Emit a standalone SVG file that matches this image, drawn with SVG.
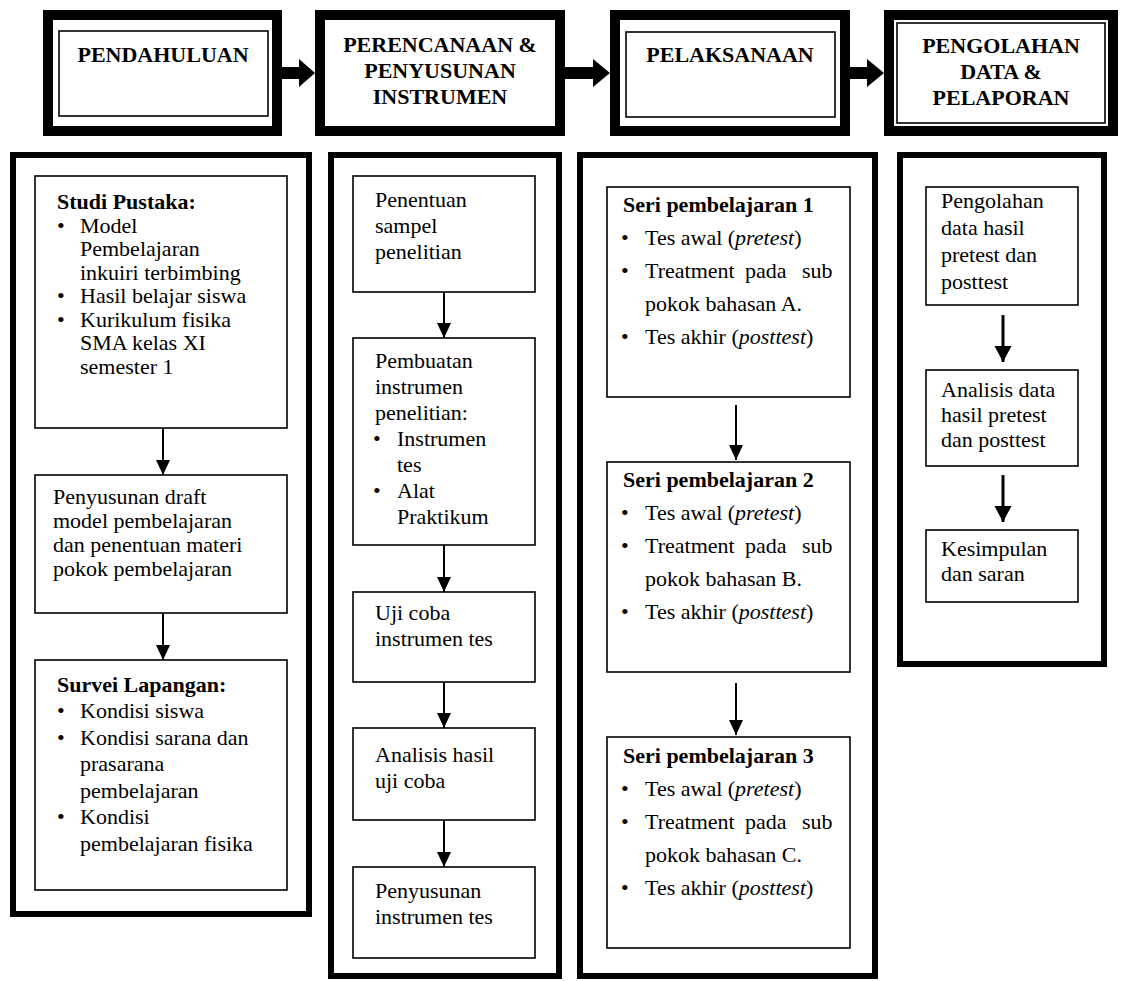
<svg xmlns="http://www.w3.org/2000/svg" width="1128" height="981" viewBox="0 0 1128 981">
<defs>
<style>
.hdr{fill:#fff;stroke:#000;stroke-width:10}
.col{fill:#fff;stroke:#000;stroke-width:6}
.box{fill:#fff;stroke:#000;stroke-width:1.6}
.thin{fill:none;stroke:#000;stroke-width:1.6}
text{font-family:"Liberation Serif","Times New Roman",serif;font-size:22px;fill:#000}
.h{font-weight:bold;text-anchor:middle}
.b{font-weight:bold}
.i{font-style:italic}
.ln{stroke:#000;stroke-width:2;fill:none}
.ln3{stroke:#000;stroke-width:3;fill:none}
</style>
<marker id="ah" markerUnits="userSpaceOnUse" markerWidth="16" markerHeight="16" refX="15" refY="7" orient="auto">
<path d="M0,0 L15,7 L0,14 z" fill="#000"/>
</marker>
<marker id="ah2" markerUnits="userSpaceOnUse" markerWidth="18" markerHeight="18" refX="16" refY="8.5" orient="auto">
<path d="M0,0 L16,8.5 L0,17 z" fill="#000"/>
</marker>
</defs>
<rect width="1128" height="981" fill="#fff"/>

<g id="h1">
<rect class="hdr" x="48" y="15" width="229" height="116"/>
<rect class="thin" x="59" y="31" width="209" height="85"/>
<text class="h" x="163" y="62">PENDAHULUAN</text>
</g>
<g id="h2">
<rect class="hdr" x="320" y="15" width="240" height="116"/>
<text class="h" x="440" y="52">PERENCANAAN &amp;</text>
<text class="h" x="440" y="78">PENYUSUNAN</text>
<text class="h" x="440" y="104">INSTRUMEN</text>
</g>
<g id="h3">
<rect class="hdr" x="615" y="15" width="230" height="116"/>
<rect class="thin" x="626" y="32" width="209" height="85"/>
<text class="h" x="730" y="62">PELAKSANAAN</text>
</g>
<g id="h4">
<rect class="hdr" x="889" y="15" width="224" height="116"/>
<rect class="thin" x="897" y="23" width="208" height="100"/>
<text class="h" x="1001" y="53">PENGOLAHAN</text>
<text class="h" x="1001" y="79">DATA &amp;</text>
<text class="h" x="1001" y="105">PELAPORAN</text>
</g>

<g id="c1">
<rect class="col" x="13" y="155" width="296" height="759"/>
</g>
<g id="c2">
<rect class="col" x="331" y="155" width="228" height="821"/>
</g>
<g id="c3">
<rect class="col" x="580" y="155" width="295" height="821"/>
</g>
<g id="c4">
<rect class="col" x="900" y="155" width="204" height="509"/>
</g>

<g id="studi">
<rect class="box" x="35" y="176" width="252" height="252"/>
<text class="b" x="57" y="209">Studi Pustaka:</text>
<text x="57" y="233">•</text><text x="80" y="233">Model</text>
<text x="80" y="256">Pembelajaran</text>
<text x="80" y="280">inkuiri terbimbing</text>
<text x="57" y="303">•</text><text x="80" y="303">Hasil belajar siswa</text>
<text x="57" y="327">•</text><text x="80" y="327">Kurikulum fisika</text>
<text x="80" y="350">SMA kelas XI</text>
<text x="80" y="374">semester 1</text>
</g>
<g id="draft">
<rect class="box" x="35" y="475" width="252" height="138"/>
<text x="53" y="504">Penyusunan draft</text>
<text x="53" y="528">model pembelajaran</text>
<text x="53" y="552">dan penentuan materi</text>
<text x="53" y="576">pokok pembelajaran</text>
</g>
<g id="survei">
<rect class="box" x="35" y="660" width="252" height="230"/>
<text class="b" x="57" y="692">Survei Lapangan:</text>
<text x="57" y="718">•</text><text x="80" y="718">Kondisi siswa</text>
<text x="57" y="745">•</text><text x="80" y="745">Kondisi sarana dan</text>
<text x="80" y="771">prasarana</text>
<text x="80" y="798">pembelajaran</text>
<text x="57" y="824">•</text><text x="80" y="824">Kondisi</text>
<text x="80" y="851">pembelajaran fisika</text>
</g>

<g id="sampel">
<rect class="box" x="353" y="176" width="182" height="116"/>
<text x="375" y="207">Penentuan</text>
<text x="375" y="233">sampel</text>
<text x="375" y="259">penelitian</text>
</g>
<g id="pembuatan">
<rect class="box" x="353" y="338" width="182" height="207"/>
<text x="375" y="368">Pembuatan</text>
<text x="375" y="394">instrumen</text>
<text x="375" y="420">penelitian:</text>
<text x="373" y="446">•</text><text x="397" y="446">Instrumen</text>
<text x="397" y="472">tes</text>
<text x="373" y="498">•</text><text x="397" y="498">Alat</text>
<text x="397" y="524">Praktikum</text>
</g>
<g id="ujicoba">
<rect class="box" x="353" y="592" width="182" height="90"/>
<text x="375" y="620">Uji coba</text>
<text x="375" y="646">instrumen tes</text>
</g>
<g id="analisis">
<rect class="box" x="353" y="728" width="182" height="92"/>
<text x="375" y="762">Analisis hasil</text>
<text x="375" y="788">uji coba</text>
</g>
<g id="penyusunan">
<rect class="box" x="353" y="867" width="182" height="91"/>
<text x="375" y="898">Penyusunan</text>
<text x="375" y="924">instrumen tes</text>
</g>

<g id="seri1">
<rect class="box" x="607" y="187" width="243" height="210"/>
<text class="b" x="623" y="212">Seri pembelajaran 1</text>
<text x="621" y="245">•</text><text x="645" y="245">Tes awal (<tspan class="i">pretest</tspan>)</text>
<text x="621" y="278">•</text><text x="645" y="278">Treatment<tspan x="745">pada</tspan><tspan x="802">sub</tspan></text>
<text x="645" y="311">pokok bahasan A.</text>
<text x="621" y="344">•</text><text x="645" y="344">Tes akhir (<tspan class="i">posttest</tspan>)</text>
</g>
<g id="seri2">
<rect class="box" x="607" y="462" width="243" height="210"/>
<text class="b" x="623" y="487">Seri pembelajaran 2</text>
<text x="621" y="520">•</text><text x="645" y="520">Tes awal (<tspan class="i">pretest</tspan>)</text>
<text x="621" y="553">•</text><text x="645" y="553">Treatment<tspan x="745">pada</tspan><tspan x="802">sub</tspan></text>
<text x="645" y="586">pokok bahasan B.</text>
<text x="621" y="619">•</text><text x="645" y="619">Tes akhir (<tspan class="i">posttest</tspan>)</text>
</g>
<g id="seri3">
<rect class="box" x="607" y="737" width="243" height="211"/>
<text class="b" x="623" y="763">Seri pembelajaran 3</text>
<text x="621" y="796">•</text><text x="645" y="796">Tes awal (<tspan class="i">pretest</tspan>)</text>
<text x="621" y="829">•</text><text x="645" y="829">Treatment<tspan x="745">pada</tspan><tspan x="802">sub</tspan></text>
<text x="645" y="862">pokok bahasan C.</text>
<text x="621" y="895">•</text><text x="645" y="895">Tes akhir (<tspan class="i">posttest</tspan>)</text>
</g>

<g id="olah">
<rect class="box" x="926" y="187" width="152" height="118"/>
<text x="941" y="208">Pengolahan</text>
<text x="941" y="235">data hasil</text>
<text x="941" y="262">pretest dan</text>
<text x="941" y="289">posttest</text>
</g>
<g id="analisisdata">
<rect class="box" x="926" y="370" width="152" height="96"/>
<text x="941" y="397">Analisis data</text>
<text x="941" y="422">hasil pretest</text>
<text x="941" y="447">dan posttest</text>
</g>
<g id="kesimpulan">
<rect class="box" x="926" y="530" width="152" height="72"/>
<text x="941" y="556">Kesimpulan</text>
<text x="941" y="581">dan saran</text>
</g>

<g id="connectors">
<path d="M282,67 H299 V59 L315,73 L299,87 V79 H282 Z" fill="#000"/>
<path d="M560,67 H593 V59 L610,73 L593,87 V79 H560 Z" fill="#000"/>
<path d="M845,67 H867 V59 L884,73 L867,87 V79 H845 Z" fill="#000"/>
<line class="ln" x1="163" y1="428" x2="163" y2="475" marker-end="url(#ah)"/>
<line class="ln" x1="163" y1="613" x2="163" y2="660" marker-end="url(#ah)"/>
<line class="ln" x1="444" y1="292" x2="444" y2="338" marker-end="url(#ah)"/>
<line class="ln" x1="444" y1="545" x2="444" y2="592" marker-end="url(#ah)"/>
<line class="ln" x1="444" y1="682" x2="444" y2="728" marker-end="url(#ah)"/>
<line class="ln" x1="444" y1="820" x2="444" y2="867" marker-end="url(#ah)"/>
<line class="ln" x1="736" y1="405" x2="736" y2="460" marker-end="url(#ah)"/>
<line class="ln" x1="736" y1="683" x2="736" y2="735" marker-end="url(#ah)"/>
<line class="ln3" x1="1003" y1="315" x2="1003" y2="362" marker-end="url(#ah2)"/>
<line class="ln3" x1="1003" y1="475" x2="1003" y2="522" marker-end="url(#ah2)"/>
</g>
</svg>
